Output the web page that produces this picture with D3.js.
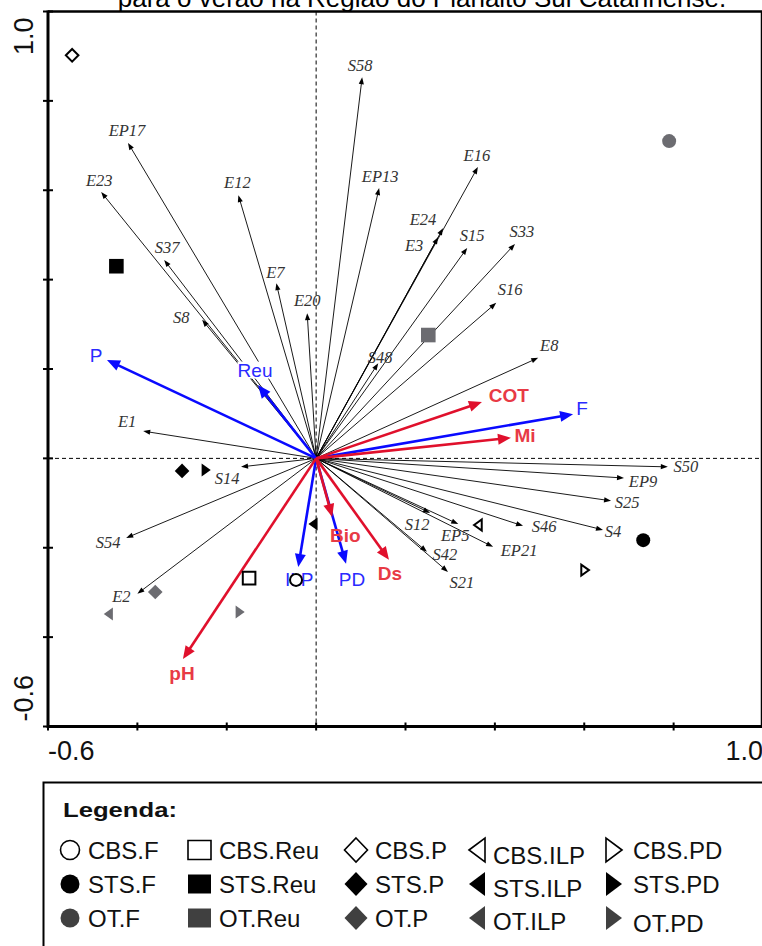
<!DOCTYPE html>
<html><head><meta charset="utf-8">
<script src="https://cdn.jsdelivr.net/npm/d3@7"></script>
<style>html,body{margin:0;padding:0;background:#fff;overflow:hidden}</style>
</head><body><svg id="c" width="762" height="946"></svg>
<script>
// ---------------- DATA ----------------
const titleText = "para o verão na Região do Planalto Sul Catarinense.";
const axisTicks = [-0.6, -0.4, -0.2, 0, 0.2, 0.4, 0.6, 0.8, 1.0];
const axisEndLabels = ["-0.6", "1.0"];

const speciesNames = ["S58","EP17","E23","E12","EP13","E16","E24","E3","S15","S33","S16","E8","S48","E7","E20","S37","S8","E1","S14","S54","E2","S50","EP9","S25","S4","S46","EP21","EP5","S12","S42","S21"];
const speciesAx1 = [0.103,-0.421,-0.481,-0.174,0.141,0.362,0.284,0.273,0.338,0.445,0.403,0.497,0.139,-0.089,-0.020,-0.340,-0.255,-0.387,-0.168,-0.425,-0.400,0.787,0.689,0.660,0.642,0.463,0.396,0.318,0.255,0.248,0.295];
const speciesAx2 = [0.853,0.706,0.596,0.589,0.605,0.652,0.515,0.495,0.471,0.480,0.348,0.225,0.213,0.392,0.325,0.444,0.310,0.061,-0.019,-0.178,-0.303,-0.019,-0.044,-0.095,-0.160,-0.151,-0.198,-0.147,-0.122,-0.209,-0.254];

const envNames = ["P","Reu","F","ILP","PD","COT","Mi","Bio","Ds","pH"];
const envAx1 = [-0.468,-0.130,0.575,-0.040,0.067,0.371,0.436,0.036,0.163,-0.298];
const envAx2 = [0.220,0.164,0.099,-0.243,-0.236,0.126,0.046,-0.131,-0.227,-0.449];
const envKind = ["uso","uso","uso","uso","uso","solo","solo","solo","solo","solo"];

const sampleNames = ["CBS.P","OT.F","STS.Reu","OT.Reu","STS.P","STS.PD","STS.ILP","CBS.ILP","STS.F","CBS.PD","CBS.Reu","CBS.F","OT.P","OT.ILP","OT.PD"];
const sampleAx1 = [-0.546,0.790,-0.447,0.251,-0.300,-0.246,-0.007,0.362,0.732,0.602,-0.150,-0.045,-0.360,-0.465,-0.170];
const sampleAx2 = [0.902,0.710,0.430,0.276,-0.028,-0.026,-0.147,-0.149,-0.183,-0.250,-0.268,-0.272,-0.299,-0.348,-0.344];

const legendTitle = "Legenda:";
const legendSystems = ["CBS","STS","OT"];
const legendSites = ["F","Reu","P","ILP","PD"];

// ---------------- LAYOUT / STYLE ----------------
const speciesLabelOffset = {
  S58:[-2,-12],EP17:[-1,-12],E23:[-2,-12],E12:[-1,-13],EP13:[1,-12],E16:[-1,-12],
  E24:[-20,-9],E3:[-24,8],S15:[5,-12],S33:[7,-12],S16:[14,-13],E8:[11,-12],S48:[2,-6],
  E7:[-1,-11],E20:[0,-13],S37:[3,-12],S8:[-21,-2],E1:[-16,-10],S14:[-14,12],
  S54:[-18,5],E2:[-16,3],S50:[18,0],EP9:[19,3],S25:[16,2],S4:[10,2],S46:[21,1],
  EP21:[26,4],EP5:[-3,11],S12:[-13,12],S42:[18,3],S21:[14,11]
};
const envLabelOffset = {P:[-11,-5],Reu:[-3,-15],F:[9,-6],ILP:[1,13],PD:[6,16],COT:[27,-7],Mi:[14,-2],Bio:[13,19],Ds:[1,14],pH:[-1,14]};
const BLUE = "#0a0aff", BLUE_T = "#2a2aff", RED = "#e0102c", RED_T = "#e83a45";
const GREY = "#6c6c71", LGREY = "#404040";

const svg = d3.select("#c");
const x = d3.scaleLinear().domain([-0.6, 1.0]).range([48, 763]);
const y = d3.scaleLinear().domain([-0.6, 1.0]).range([726.5, 11.5]);
const X0 = x(0), Y0 = y(0);

// title (cut at top)
svg.append("text").attr("x", 422).attr("y", 7).attr("text-anchor","middle")
  .attr("font-family","Arial, 'Liberation Sans', sans-serif").attr("font-size",26)
  .attr("fill","#000").text(titleText);

// dashed axes
svg.append("line").attr("x1",X0).attr("x2",X0).attr("y1",y(1.0)).attr("y2",y(-0.6))
  .attr("stroke","#000").attr("stroke-width",1).attr("stroke-dasharray","4,3");
svg.append("line").attr("x1",x(-0.6)).attr("x2",x(1.0)).attr("y1",Y0).attr("y2",Y0)
  .attr("stroke","#000").attr("stroke-width",1).attr("stroke-dasharray","4,3");

// frame
svg.append("line").attr("x1",x(-0.6)).attr("x2",x(1.0)).attr("y1",y(1.0)).attr("y2",y(1.0)).attr("stroke","#000").attr("stroke-width",2.5);
svg.append("line").attr("x1",x(1.0)-1).attr("x2",x(1.0)-1).attr("y1",y(1.0)).attr("y2",y(-0.6)).attr("stroke","#000").attr("stroke-width",2.5);
svg.append("line").attr("x1",x(-0.6)).attr("x2",x(-0.6)).attr("y1",y(1.0)-1).attr("y2",y(-0.6)+1.5).attr("stroke","#000").attr("stroke-width",3);
svg.append("line").attr("x1",x(-0.6)).attr("x2",x(1.0)).attr("y1",y(-0.6)).attr("y2",y(-0.6)).attr("stroke","#000").attr("stroke-width",3);
axisTicks.forEach(t=>{
  svg.append("line").attr("x1",x(-0.6)-5).attr("x2",x(-0.6)+5).attr("y1",y(t)).attr("y2",y(t)).attr("stroke","#000").attr("stroke-width",2);
  svg.append("line").attr("x1",x(t)).attr("x2",x(t)).attr("y1",y(-0.6)-4).attr("y2",y(-0.6)+4).attr("stroke","#000").attr("stroke-width",2);
});
const axFont = "Arial, 'Liberation Sans', sans-serif";
svg.append("text").attr("x",x(-0.6)).attr("y",760).attr("font-family",axFont).attr("font-size",27).attr("fill","#111").text(axisEndLabels[0]);
svg.append("text").attr("x",x(1.0)).attr("y",760).attr("text-anchor","end").attr("font-family",axFont).attr("font-size",27).attr("fill","#111").text(axisEndLabels[1]);
svg.append("text").attr("transform",`translate(33,${y(-0.6)-5}) rotate(-90)`).attr("font-family",axFont).attr("font-size",27).attr("fill","#111").text(axisEndLabels[0]);
svg.append("text").attr("transform",`translate(33,${y(1.0)+6}) rotate(-90)`).attr("text-anchor","end").attr("font-family",axFont).attr("font-size",27).attr("fill","#111").text(axisEndLabels[1]);

// arrow helper
function arrow(g, x1, y1, x2, y2, color, width, headLen, headHalf){
  const dx = x2-x1, dy = y2-y1, L = Math.hypot(dx,dy), ux = dx/L, uy = dy/L;
  const bx = x2 - ux*headLen, by = y2 - uy*headLen;
  g.append("line").attr("x1",x1).attr("y1",y1).attr("x2",bx+ux*1).attr("y2",by+uy*1)
    .attr("stroke",color).attr("stroke-width",width);
  g.append("path").attr("d",`M${x2},${y2}L${bx - uy*headHalf},${by + ux*headHalf}L${bx + uy*headHalf},${by - ux*headHalf}Z`)
    .attr("fill",color);
}

// species arrows
const gS = svg.append("g");
speciesNames.forEach((n,i)=>{
  arrow(gS, X0, Y0, x(speciesAx1[i]), y(speciesAx2[i]), "#000", 0.9, 7, 2.6);
});
// env arrows
const gE = svg.append("g");
envNames.forEach((n,i)=>{
  const c = envKind[i]==="uso" ? BLUE : RED;
  arrow(gE, X0, Y0, x(envAx1[i]), y(envAx2[i]), c, 2.6, 13, 5.5);
});

// species labels
const gSL = svg.append("g");
speciesNames.forEach((n,i)=>{
  const o = speciesLabelOffset[n] || [0,-12];
  gSL.append("text").attr("x", x(speciesAx1[i])+o[0]).attr("y", y(speciesAx2[i])+o[1])
    .attr("text-anchor","middle").attr("dominant-baseline","central")
    .attr("font-family","'Liberation Serif','Times New Roman',serif").attr("font-style","italic")
    .attr("font-size",16.5).attr("fill","#333").text(n);
});

// env labels
const gEL = svg.append("g");
envNames.forEach((n,i)=>{
  const o = envLabelOffset[n];
  const isUse = envKind[i]==="uso";
  const t = gEL.append("text").attr("x", x(envAx1[i])+o[0]).attr("y", y(envAx2[i])+o[1])
    .attr("text-anchor","middle").attr("dominant-baseline","central")
    .attr("font-family",axFont).attr("font-size",19)
    .attr("font-weight", isUse ? "normal" : "bold")
    .attr("fill", isUse ? BLUE_T : RED_T).text(n);
  if(n==="Reu"){
    const b = t.node().getBBox();
    gEL.insert("rect", () => t.node()).attr("x",b.x).attr("y",b.y+2).attr("width",b.width).attr("height",b.height-4).attr("fill","#fff");
  }
});

// marker shapes
function shapePath(site, s){
  // s = half-size
  switch(site){
    case "F": return d3.symbol(d3.symbolCircle, Math.PI*s*s)();
    case "Reu": return `M${-s},${-s}H${s}V${s}H${-s}Z`;
    case "P": return `M0,${-s}L${s},0L0,${s}L${-s},0Z`;
    case "ILP": return `M${-s*0.7},0L${s*0.7},${-s}L${s*0.7},${s}Z`;
    case "PD": return `M${s*0.7},0L${-s*0.7},${-s}L${-s*0.7},${s}Z`;
  }
}
function styleFor(sys, grey){
  if(sys==="CBS") return {fill:"#fff", stroke:"#000", sw:2};
  if(sys==="STS") return {fill:"#000", stroke:"none", sw:0};
  return {fill:grey, stroke:"none", sw:0};
}
const sizeBySite = {F:7, Reu:7.3, P:7.3, ILP:6.5, PD:6.5};
const gM = svg.append("g");
sampleNames.forEach((n,i)=>{
  const [sys, site] = n.split(".");
  const st = styleFor(sys, GREY);
  const s = sys==="CBS" ? sizeBySite[site]-1 : sizeBySite[site];
  gM.append("path").attr("d", shapePath(site, s))
    .attr("transform",`translate(${x(sampleAx1[i])},${y(sampleAx2[i])})`)
    .attr("fill", st.fill).attr("stroke", st.stroke).attr("stroke-width", st.sw);
});

// legend
const gL = svg.append("g");
gL.append("rect").attr("x",43.5).attr("y",782.5).attr("width",740).attr("height",200)
  .attr("fill","none").attr("stroke","#000").attr("stroke-width",2);
gL.append("text").attr("x",63).attr("y",817).attr("font-family",axFont).attr("font-weight","bold")
  .attr("font-size",21).attr("textLength",114).attr("lengthAdjust","spacingAndGlyphs").attr("fill","#111").text(legendTitle);
const colMarkX = [70, 199.5, 356, 477, 614];
const colTextX = [88, 219, 375, 493, 633];
const rowBase = [859, 893, 927];
const legSize = {F:9.5, Reu:10.5, P:12, ILP:12, PD:12};
const textShift = {ILP:[5,4,3], PD:[0,0,5]};
legendSystems.forEach((sys, r)=>{
  legendSites.forEach((site, c)=>{
    const st = styleFor(sys, LGREY);
    const cy = rowBase[r]-9;
    let d = shapePath(site, legSize[site]);
    if(site==="Reu") d = `M-11.5,-9.5H11.5V9.5H-11.5Z`;
    if(site==="P") d = `M0,-12L11.5,0L0,12L-11.5,0Z`;
    if(site==="ILP") d = `M-8,0L8,-12L8,12Z`;
    if(site==="PD") d = `M8,0L-8,-12L-8,12Z`;
    gL.append("path").attr("d", d).attr("transform",`translate(${colMarkX[c]},${cy})`)
      .attr("fill", st.fill).attr("stroke", st.stroke).attr("stroke-width", st.sw? 1.6:0);
    const sh = (textShift[site]||[0,0,0])[r];
    gL.append("text").attr("x",colTextX[c]).attr("y",rowBase[r]+sh)
      .attr("font-family",axFont).attr("font-size",24).attr("fill","#111").text(sys+"."+site);
  });
});
</script></body></html>
